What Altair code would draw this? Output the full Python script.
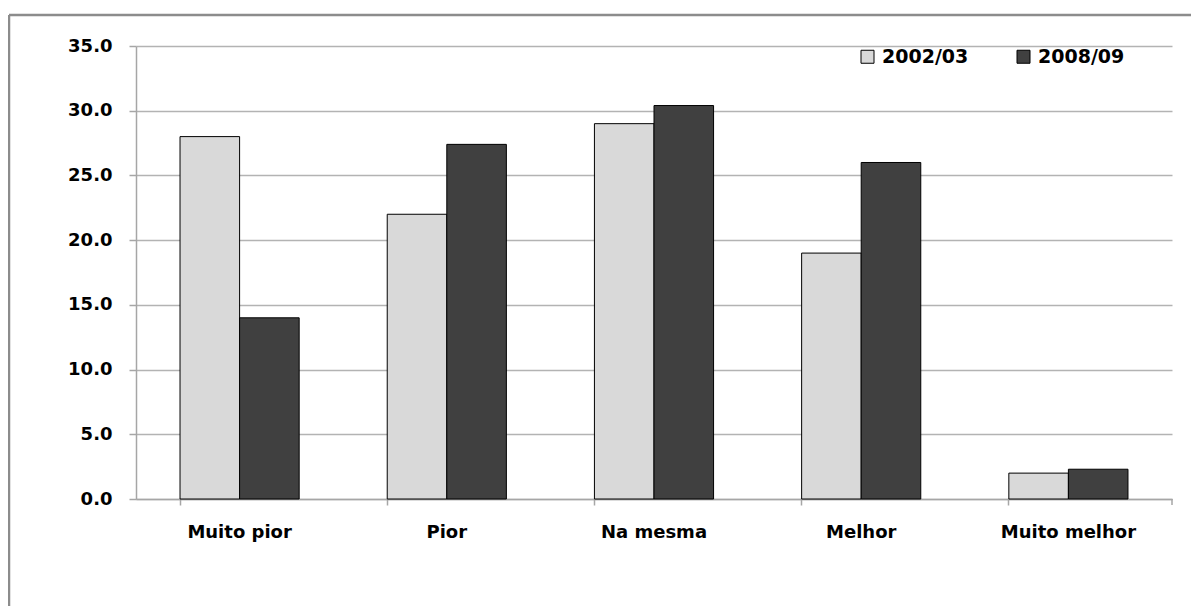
import altair as alt
import pandas as pd

categories = ["Muito pior", "Pior", "Na mesma", "Melhor", "Muito melhor"]
series_names = ["2002/03", "2008/09"]
values_2002 = [28.0, 22.0, 29.0, 19.0, 2.0]
values_2008 = [14.0, 27.4, 30.4, 26.0, 2.3]
y_ticks = [0, 5, 10, 15, 20, 25, 30, 35]

rows = []
for c, a, b in zip(categories, values_2002, values_2008):
    rows.append({"cat": c, "serie": series_names[0], "val": a})
    rows.append({"cat": c, "serie": series_names[1], "val": b})
df = pd.DataFrame(rows)

W, H = 1036, 453
FONT = "DejaVu Sans"

bars = alt.Chart(df).mark_bar(stroke="#000000", strokeWidth=1).encode(
    x=alt.X("cat:N", sort=categories, title=None,
            scale=alt.Scale(paddingInner=0.425, paddingOuter=0.2125),
            axis=alt.Axis(labelAngle=0, bandPosition=0, grid=False,
                          domainColor="#a6a6a6", domainWidth=1.5,
                          tickColor="#a6a6a6", tickWidth=1.5, tickSize=6,
                          labelPadding=18, labelFont=FONT, labelFontSize=18,
                          labelFontWeight="bold", labelColor="#000000")),
    xOffset=alt.XOffset("serie:N", sort=series_names),
    y=alt.Y("val:Q", title=None,
            scale=alt.Scale(domain=[0, 35], nice=False),
            axis=alt.Axis(values=y_ticks, format=".1f", grid=True,
                          gridColor="#b3b3b3", gridWidth=1.5,
                          domainColor="#a6a6a6", domainWidth=1.5,
                          tickColor="#a6a6a6", tickWidth=1.5, tickSize=7,
                          labelPadding=17, labelFont=FONT, labelFontSize=18,
                          labelFontWeight="bold", labelColor="#000000")),
    color=alt.Color("serie:N", sort=series_names, title=None,
                    scale=alt.Scale(domain=series_names, range=["#d9d9d9", "#404040"]),
                    legend=alt.Legend(orient="none", legendX=722, legendY=1,
                                      direction="horizontal", symbolType="square",
                                      symbolSize=169, symbolStrokeColor="#000000",
                                      symbolStrokeWidth=1, symbolOpacity=1,
                                      labelFont=FONT, labelFontSize=19,
                                      labelFontWeight="bold",
                                      labelColor="#000000", labelOffset=5,
                                      columnPadding=45)),
)

frame_top = alt.Chart(pd.DataFrame({"k": [0]})).mark_rule(color="#8c8c8c", strokeWidth=2.5).encode(
    x=alt.value(-127), x2=alt.value(1100), y=alt.value(-31))
frame_left = alt.Chart(pd.DataFrame({"k": [0]})).mark_rule(color="#8c8c8c", strokeWidth=2.5).encode(
    x=alt.value(-127), y=alt.value(-31), y2=alt.value(600))
end_tick = alt.Chart(pd.DataFrame({"k": [0]})).mark_rule(color="#a6a6a6", strokeWidth=1.5).encode(
    x=alt.value(W), y=alt.value(H), y2=alt.value(H + 6))

chart = alt.layer(frame_top, frame_left, end_tick, bars).properties(
    width=W, height=H,
    autosize=alt.AutoSizeParams(type="none"),
    padding={"left": 128, "top": 38, "right": 19, "bottom": 107},
).configure_view(stroke=None)

chart.save("out.html", embed_options={"renderer": "svg", "actions": False})
